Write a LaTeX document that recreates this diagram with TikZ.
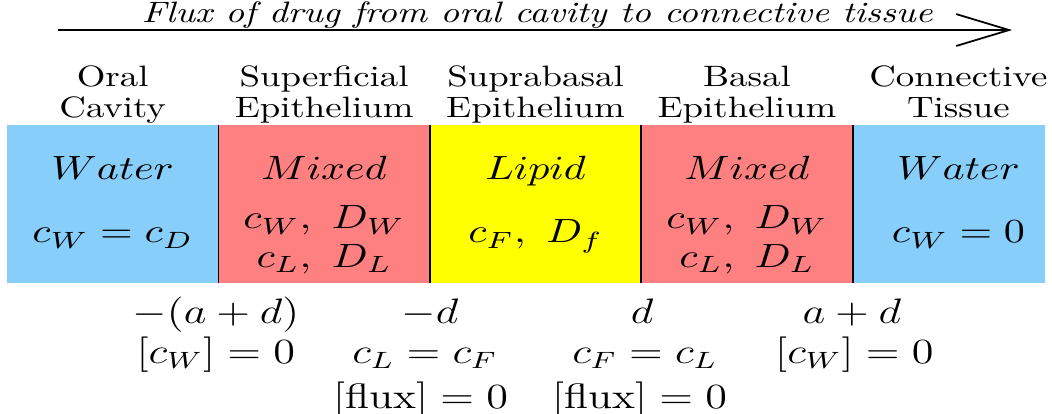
\RequirePackage{fix-cm}
\documentclass[tikz,border=0pt]{standalone}
\usetikzlibrary{arrows.meta}
\definecolor{waterblue}{RGB}{135,206,250}
\definecolor{mixedred}{RGB}{255,128,128}
\definecolor{lipidyellow}{RGB}{255,255,0}
\tikzset{
	wide/.style={xscale=1.25},
	layer/.style={wide,anchor=base,align=center,inner sep=0pt,font=\fontsize{10}{10.5}\selectfont},
	phase/.style={wide,anchor=base,inner sep=0pt,font=\fontsize{11.4}{13}\selectfont},
	jump/.style={wide,anchor=base,inner sep=0pt,font=\fontsize{12}{14}\selectfont},
}
\begin{document}
\begin{tikzpicture}
		\useasboundingbox (-0.083,-1.561) rectangle (12.455,3.373);
		\fill[waterblue] (0,0) rectangle (2.52,1.88);
		\fill[mixedred] (2.52,0) rectangle (5.04,1.88);
		\fill[lipidyellow] (5.04,0) rectangle (7.56,1.88);
		\fill[mixedred] (7.56,0) rectangle (10.08,1.88);
		\fill[waterblue] (10.08,0) rectangle (12.37,1.88);
		\foreach \x in {2.52,5.04,7.56,10.08}
		\draw[line width=0.6pt] (\x,0)--(\x,1.88);
		\coordinate (fluxtail) at (0.61,3.015);
		\coordinate (fluxhead) at (11.98,3.015);
		\draw[line width=0.6pt,-{Straight Barb[length=6.3mm,width=3.8mm]}] (fluxtail)--(fluxhead);
		\node[wide,anchor=base,inner sep=0pt] (fluxtext) at (6.32,3.10) {\itshape Flux of drug from oral cavity to connective tissue};
		\foreach \x/\txt [count=\i] in {1.26/{Oral\\Cavity},3.78/{Superficial\\Epithelium},6.30/{Suprabasal\\Epithelium},8.82/{Basal\\Epithelium},11.34/{Connective\\Tissue}}
		\node[layer] (layer\i) at (\x,1.967) {\txt};
		\foreach \x/\txt [count=\i] in {1.26/Water,3.78/Mixed,6.30/Lipid,8.82/Mixed,11.34/Water}
		\node[phase] (phase\i) at (\x,1.228) {$\txt$};
		\node[phase] (conc1) at (1.26,0.477) {$c_W = c_D$};
		\node[phase] (conc2a) at (3.78,0.644) {$c_W,\ D_W$};
		\node[phase] (conc2b) at (3.78,0.19) {$c_L,\ D_L$};
		\node[phase] (conc3) at (6.30,0.477) {$c_F,\ D_f$};
		\node[phase] (conc4a) at (8.82,0.644) {$c_W,\ D_W$};
		\node[phase] (conc4b) at (8.82,0.19) {$c_L,\ D_L$};
		\node[phase] (conc5) at (11.34,0.477) {$c_W = 0$};
		\node[jump] (pos1) at (2.49,-0.477) {$-(a+d)$};
		\node[jump] (pos2) at (5.04,-0.477) {$-d$};
		\node[jump] (pos3) at (7.57,-0.477) {$d$};
		\node[jump] (pos4) at (10.07,-0.477) {$a+d$};
		\node[jump] (cond1) at (2.49,-0.954) {$[c_W] = 0$};
		\node[jump] (cond2) at (4.98,-0.954) {$c_L = c_F$};
		\node[jump] (cond3) at (7.60,-0.954) {$c_F = c_L$};
		\node[jump] (cond4) at (10.10,-0.954) {$[c_W] = 0$};
		\node[jump] (flux2) at (4.93,-1.49) {$[\mbox{flux}] = 0$};
		\node[jump] (flux3) at (7.54,-1.49) {$[\mbox{flux}] = 0$};
	\end{tikzpicture}
\end{document}
